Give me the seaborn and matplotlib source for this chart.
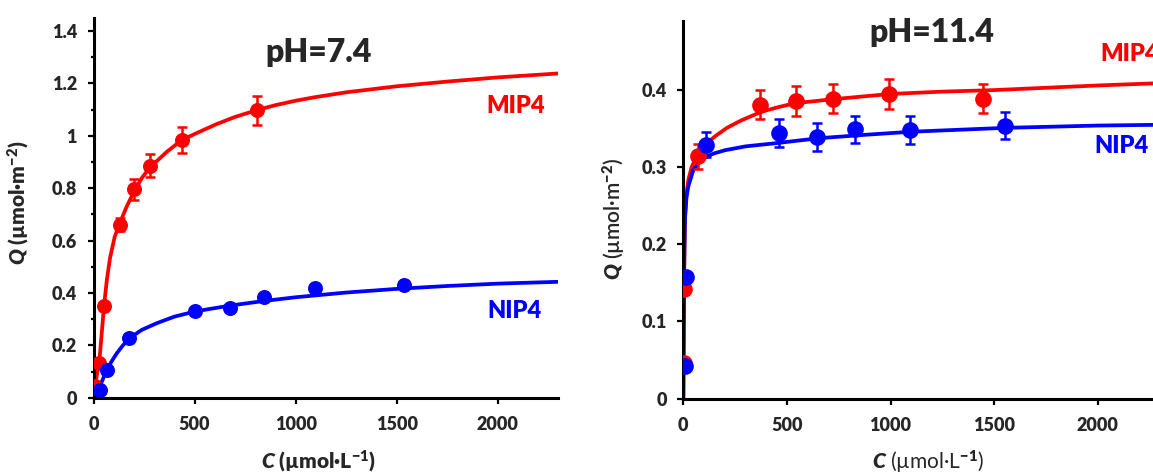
import matplotlib
matplotlib.use("Agg")
import matplotlib.pyplot as plt
import seaborn as sns
from matplotlib.ticker import MultipleLocator, FuncFormatter

# ---- pH 7.4 : measured points ----
c_mip_74 = [7, 29, 52, 131, 201, 280, 437, 808]
q_mip_74 = [0.045, 0.134, 0.351, 0.660, 0.796, 0.885, 0.984, 1.098]
e_mip_74 = [0.008, 0.012, 0.015, 0.025, 0.040, 0.044, 0.049, 0.055]

c_nip_74 = [32, 65, 176, 503, 673, 845, 1096, 1535]
q_nip_74 = [0.030, 0.106, 0.227, 0.332, 0.344, 0.386, 0.418, 0.430]
e_nip_74 = [0.005, 0.006, 0.008, 0.010, 0.010, 0.010, 0.010, 0.010]

# ---- pH 7.4 : fitted curves ----
fit_c_mip_74 = [0, 7, 29, 52, 66, 82, 105, 131, 164, 201, 240, 280, 363, 437, 520,
                610, 700, 808, 900, 1000, 1100, 1250, 1500, 1750, 2000, 2300]
fit_q_mip_74 = [0, 0.045, 0.14, 0.35, 0.45, 0.535, 0.615, 0.668, 0.73, 0.788, 0.84,
                0.88, 0.939, 0.984, 1.014, 1.045, 1.072, 1.098, 1.117, 1.134, 1.148,
                1.166, 1.189, 1.207, 1.223, 1.238]
fit_c_nip_74 = [0, 15, 32, 65, 90, 115, 145, 176, 240, 313, 400, 503, 673, 845, 1000,
                1250, 1500, 1750, 2000, 2300]
fit_q_nip_74 = [0, 0.015, 0.045, 0.106, 0.14, 0.17, 0.20, 0.227, 0.26, 0.285, 0.31,
                0.33, 0.352, 0.37, 0.384, 0.402, 0.416, 0.427, 0.436, 0.443]

# ---- pH 11.4 : measured points ----
c_mip_114 = [1, 2, 69, 370, 542, 724, 991, 1446]
q_mip_114 = [0.046, 0.142, 0.314, 0.381, 0.386, 0.389, 0.395, 0.389]
e_mip_114 = [0.004, 0.006, 0.016, 0.019, 0.019, 0.019, 0.020, 0.019]

c_nip_114 = [8, 11, 108, 460, 644, 829, 1093, 1552]
q_nip_114 = [0.042, 0.158, 0.329, 0.344, 0.339, 0.349, 0.348, 0.354]
e_nip_114 = [0.004, 0.006, 0.016, 0.018, 0.018, 0.018, 0.018, 0.018]

# ---- pH 11.4 : fitted curves ----
fit_c_mip_114 = [0, 1, 2, 4, 8, 15, 24, 40, 65, 100, 153, 210, 282, 378, 460, 539,
                 716, 877, 1000, 1250, 1500, 1750, 2000, 2300]
fit_q_mip_114 = [0, 0.03, 0.07, 0.16, 0.235, 0.265, 0.283, 0.30, 0.315, 0.328, 0.34,
                 0.351, 0.361, 0.372, 0.378, 0.383, 0.388, 0.392, 0.395, 0.398, 0.40,
                 0.403, 0.406, 0.409]
fit_c_nip_114 = [0, 1, 3, 5, 8, 15, 24, 48, 75, 105, 150, 201, 300, 442, 651, 877,
                 1100, 1552, 2000, 2300]
fit_q_nip_114 = [0, 0.05, 0.13, 0.19, 0.232, 0.26, 0.275, 0.296, 0.306, 0.313, 0.318,
                 0.322, 0.327, 0.331, 0.3375, 0.342, 0.346, 0.351, 0.354, 0.355]

RED = '#ff0000'
BLUE = '#0000ff'

sns.set_style("ticks")
plt.rcParams['font.family'] = ['Lato', 'DejaVu Sans']
plt.rcParams['mathtext.fontset'] = 'custom'
plt.rcParams['mathtext.it'] = 'Lato:italic:heavy'
plt.rcParams['mathtext.rm'] = 'Lato:heavy'
plt.rcParams['mathtext.bf'] = 'Lato:heavy'

fig = plt.figure(figsize=(11.53, 4.75), dpi=100)
ax1 = fig.add_axes([93.5 / 1153, 1 - 397.9 / 475, 464.8 / 1153, 380.0 / 475])
ax2 = fig.add_axes([683.3 / 1153, 1 - 398.5 / 475, 476.6 / 1153, 377.8 / 475])


def draw_series(ax, fc, fq, c, q, e, color, ms):
    sns.lineplot(x=fc, y=fq, ax=ax, color=color, lw=2.7, sort=False,
                 estimator=None, zorder=2)
    ax.errorbar(c, q, yerr=e, fmt='none', ecolor=color, elinewidth=1.8,
                capsize=3.5, capthick=1.8, zorder=3)
    sns.scatterplot(x=c, y=q, ax=ax, color=color, s=ms ** 2, linewidth=0,
                    zorder=4)


draw_series(ax1, fit_c_mip_74, fit_q_mip_74, c_mip_74, q_mip_74, e_mip_74, RED, 10.8)
draw_series(ax1, fit_c_nip_74, fit_q_nip_74, c_nip_74, q_nip_74, e_nip_74, BLUE, 10.8)
draw_series(ax2, fit_c_mip_114, fit_q_mip_114, c_mip_114, q_mip_114, e_mip_114, RED, 12)
draw_series(ax2, fit_c_nip_114, fit_q_nip_114, c_nip_114, q_nip_114, e_nip_114, BLUE, 12)

fmt = FuncFormatter(lambda v, p: '%g' % round(v, 2))
for ax in (ax1, ax2):
    sns.despine(ax=ax)
    for s in ('left', 'bottom'):
        ax.spines[s].set_linewidth(2.2)
        ax.spines[s].set_color('black')
    ax.set_xlim(0, 2300)
    ax.xaxis.set_major_locator(MultipleLocator(500))
    ax.xaxis.set_major_formatter(fmt)
    ax.yaxis.set_major_formatter(fmt)
    ax.tick_params(which='major', direction='out', length=4, width=1.6,
                   labelsize=13, pad=8, color='black')
    ax.tick_params(axis='x', pad=9)
    ax.tick_params(which='minor', direction='out', length=2.5, width=1.6, color='black')

ax1.set_ylim(0, 1.45)
ax1.yaxis.set_major_locator(MultipleLocator(0.2))
ax1.yaxis.set_minor_locator(MultipleLocator(0.1))
ax2.set_ylim(0, 0.49)
ax2.yaxis.set_major_locator(MultipleLocator(0.1))

for ax in (ax1, ax2):
    for lab in ax.get_xticklabels() + ax.get_yticklabels():
        lab.set_fontweight('heavy')

# axis labels
ax1.set_xlabel(r'$C$ (µmol·L$^{-1}$)', fontsize=15, fontweight='heavy')
ax1.set_ylabel(r'$Q$ (µmol·m$^{-2}$)', fontsize=15, fontweight='heavy')
ax1.xaxis.set_label_coords(0.483, -0.135)
ax1.yaxis.set_label_coords(-0.133, 0.514)
ax2.set_xlabel(r'$C$ (µmol·L$^{-1}$)', fontsize=15)
ax2.set_ylabel(r'$Q$ (µmol·m$^{-2}$)', fontsize=15, fontweight='semibold')
ax2.xaxis.set_label_coords(0.5126, -0.133)
ax2.yaxis.set_label_coords(-0.1154, 0.475)

# annotations
ax1.text(1112, 1.317, 'pH=7.4', fontsize=23, fontweight='heavy', ha='center', va='center')
ax1.text(2088, 1.113, 'MIP4', fontsize=17, fontweight='heavy', color=RED, ha='center', va='center')
ax1.text(2083, 0.332, 'NIP4', fontsize=17, fontweight='heavy', color=BLUE, ha='center', va='center')
ax2.text(1200, 0.475, 'pH=11.4', fontsize=23, fontweight='heavy', ha='center', va='center',
         clip_on=False)
ax2.text(2011, 0.447, 'MIP4', fontsize=17, fontweight='heavy', color=RED, ha='left', va='center')
ax2.text(2116, 0.3275, 'NIP4', fontsize=17, fontweight='heavy', color=BLUE, ha='center', va='center')

fig.savefig('out.png', dpi=100)
